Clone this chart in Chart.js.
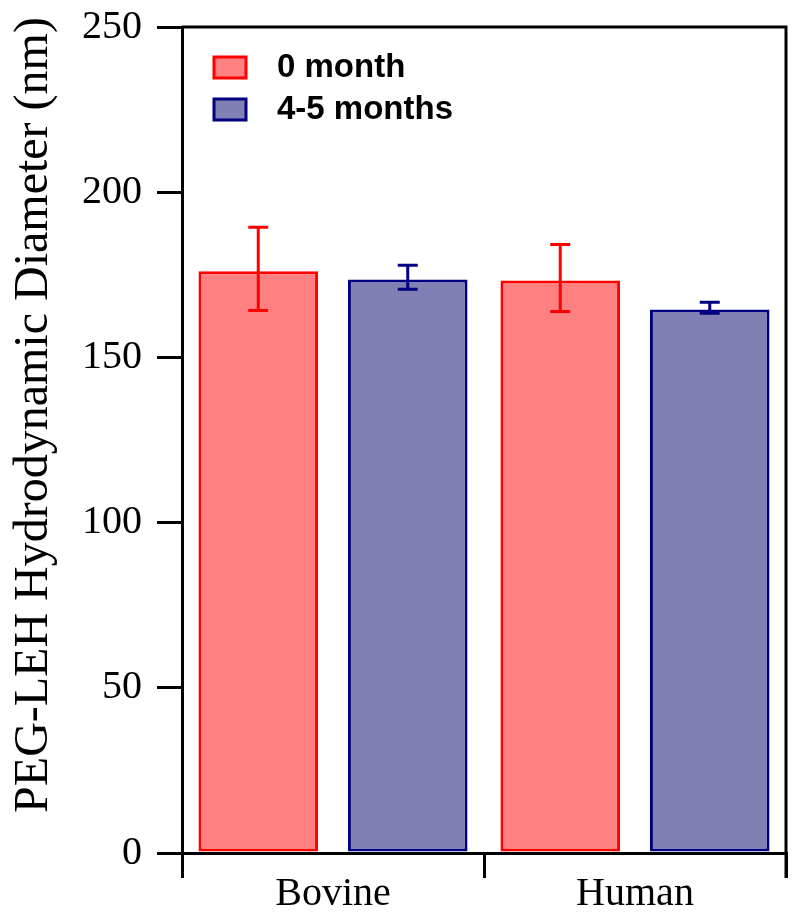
<!DOCTYPE html>
<html lang="en">

<head>
    <meta charset="UTF-8">
    <title>PEG-LEH Hydrodynamic Diameter</title>
    <script src="https://cdn.jsdelivr.net/npm/chart.js"></script>
    <style>
        body { margin: 0; background: #fff; }
        #wrap { width: 800px; height: 919px; position: relative; }
    </style>
</head>

<body>
    <div id="wrap">
        <canvas id="dlsChart"></canvas>
    </div>

    <script>
        // data
        const categories = ['Bovine', 'Human'];
        const seriesNames = ['0 month', '4-5 months'];
        const month0 = [176.1, 173.3];
        const month0Hi = [189.4, 184.2];
        const month0Lo = [164.2, 163.9];
        const month45 = [173.6, 164.5];
        const month45Hi = [177.9, 166.7];
        const month45Lo = [170.6, 163.4];
        const yTicks = [0, 50, 100, 150, 200, 250];

        const fills = ['#ff8080', '#8080b4'];
        const borders = ['#ff0000', '#000080'];
        const errHi = [month0Hi, month45Hi];
        const errLo = [month0Lo, month45Lo];

        // error bars drawn from the y scale
        const errorBars = {
            id: 'errorBars',
            afterDatasetsDraw(chart) {
                const ctx = chart.ctx;
                const y = chart.scales.y;
                chart.data.datasets.forEach((ds, i) => {
                    const meta = chart.getDatasetMeta(i);
                    meta.data.forEach((bar, j) => {
                        const top = y.getPixelForValue(errHi[i][j]);
                        const bot = y.getPixelForValue(errLo[i][j]);
                        ctx.save();
                        ctx.strokeStyle = borders[i];
                        ctx.lineWidth = 3;
                        ctx.beginPath();
                        ctx.moveTo(bar.x, top);
                        ctx.lineTo(bar.x, bot);
                        ctx.moveTo(bar.x - 10, top);
                        ctx.lineTo(bar.x + 10, top);
                        ctx.moveTo(bar.x - 10, bot);
                        ctx.lineTo(bar.x + 10, bot);
                        ctx.stroke();
                        ctx.restore();
                    });
                });
            }
        };

        // frame, legend inside the plot and the rotated y title
        const extras = {
            id: 'extras',
            afterDraw(chart) {
                const ctx = chart.ctx;
                const a = chart.chartArea;
                ctx.save();
                ctx.strokeStyle = '#000';
                ctx.lineWidth = 3;
                ctx.beginPath();
                ctx.moveTo(a.left, a.top);
                ctx.lineTo(a.right, a.top);
                ctx.lineTo(a.right, a.bottom + 25);
                ctx.stroke();

                // legend
                seriesNames.forEach((name, i) => {
                    const cy = 67 + i * 42;
                    ctx.fillStyle = fills[i];
                    ctx.fillRect(214, cy - 10, 32, 21);
                    ctx.strokeStyle = borders[i];
                    ctx.lineWidth = 3;
                    ctx.strokeRect(214, cy - 10, 32, 21);
                    ctx.fillStyle = '#000';
                    ctx.font = 'bold 33px "Liberation Sans", Arial, sans-serif';
                    ctx.textBaseline = 'middle';
                    ctx.textAlign = 'left';
                    ctx.fillText(name, 277, cy + 1);
                });

                // y axis title
                ctx.translate(47, 415);
                ctx.rotate(-Math.PI / 2);
                ctx.fillStyle = '#000';
                ctx.font = '48px "Liberation Serif", "Times New Roman", serif';
                ctx.textAlign = 'center';
                ctx.textBaseline = 'alphabetic';
                ctx.fillText('PEG-LEH Hydrodynamic Diameter (nm)', 0, 0);
                ctx.restore();
            }
        };

        const ctx = document.getElementById('dlsChart').getContext('2d');
        const dlsChart = new Chart(ctx, {
            type: 'bar',
            data: {
                labels: categories,
                datasets: [month0, month45].map((vals, i) => ({
                    label: seriesNames[i],
                    data: vals,
                    backgroundColor: fills[i],
                    borderColor: borders[i],
                    borderWidth: 3,
                    borderSkipped: false,
                    categoryPercentage: 0.99,
                    barPercentage: 0.8
                }))
            },
            options: {
                responsive: true,
                maintainAspectRatio: false,
                animation: false,
                layout: { padding: { top: 27, right: 14, left: 0, bottom: 0 } },
                plugins: {
                    legend: { display: false },
                    tooltip: { enabled: false }
                },
                scales: {
                    x: {
                        afterFit(scale) { scale.height = 66; },
                        grid: {
                            offset: true,
                            drawOnChartArea: false,
                            color: '#000',
                            lineWidth: 3,
                            tickLength: 25
                        },
                        border: { display: true, color: '#000', width: 3 },
                        ticks: {
                            color: '#000',
                            padding: -8,
                            font: { family: '"Liberation Serif", "Times New Roman", serif', size: 40 }
                        }
                    },
                    y: {
                        min: 0,
                        max: 250,
                        afterFit(scale) {
                            scale.width = 182;
                            scale.paddingTop = 0;
                            scale.paddingBottom = 0;
                        },
                        afterBuildTicks(scale) { scale.ticks = yTicks.map(v => ({ value: v })); },
                        grid: {
                            drawOnChartArea: false,
                            color: '#000',
                            lineWidth: 3,
                            tickLength: 25
                        },
                        border: { display: true, color: '#000', width: 3 },
                        ticks: {
                            color: '#000',
                            padding: 15,
                            font: { family: '"Liberation Serif", "Times New Roman", serif', size: 40 }
                        }
                    }
                }
            },
            plugins: [errorBars, extras]
        });
    </script>
</body>

</html>
